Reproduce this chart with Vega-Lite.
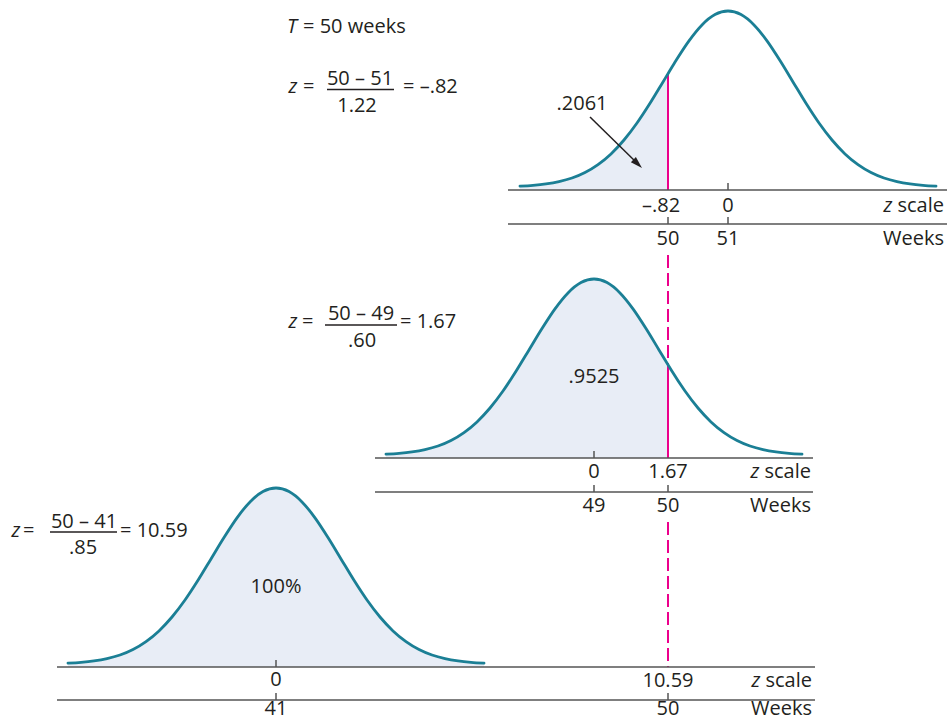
{
  "$schema": "https://vega.github.io/schema/vega-lite/v6.json",
  "width": 947,
  "height": 721,
  "autosize": {"type": "none"},
  "padding": 0,
  "background": "white",
  "config": {"view": {"stroke": null}},
  "datasets": {
    "curves": [
      {"c":"top","x":520,"y":186.1},{"c":"top","x":533,"y":185.3},{"c":"top","x":546,"y":183.9},{"c":"top","x":559,"y":181.6},{"c":"top","x":572,"y":178.0},{"c":"top","x":585,"y":172.5},{"c":"top","x":598,"y":164.6},{"c":"top","x":611,"y":153.9},{"c":"top","x":624,"y":140.0},{"c":"top","x":637,"y":123.0},{"c":"top","x":650,"y":103.3},{"c":"top","x":663,"y":81.9},{"c":"top","x":668,"y":73.7},{"c":"top","x":676,"y":60.5},{"c":"top","x":689,"y":40.8},{"c":"top","x":702,"y":24.9},{"c":"top","x":715,"y":14.6},{"c":"top","x":728,"y":11.0},{"c":"top","x":741,"y":14.6},{"c":"top","x":754,"y":24.9},{"c":"top","x":767,"y":40.8},{"c":"top","x":780,"y":60.5},{"c":"top","x":793,"y":81.9},{"c":"top","x":806,"y":103.3},{"c":"top","x":819,"y":123.0},{"c":"top","x":832,"y":140.0},{"c":"top","x":845,"y":153.9},{"c":"top","x":858,"y":164.6},{"c":"top","x":871,"y":172.5},{"c":"top","x":884,"y":178.0},{"c":"top","x":897,"y":181.6},{"c":"top","x":910,"y":183.9},{"c":"top","x":923,"y":185.3},{"c":"top","x":936,"y":186.1},
      {"c":"mid","x":386,"y":454.1},{"c":"mid","x":399,"y":453.3},{"c":"mid","x":412,"y":451.9},{"c":"mid","x":425,"y":449.6},{"c":"mid","x":438,"y":446.0},{"c":"mid","x":451,"y":440.5},{"c":"mid","x":464,"y":432.6},{"c":"mid","x":477,"y":421.9},{"c":"mid","x":490,"y":408.0},{"c":"mid","x":503,"y":391.0},{"c":"mid","x":516,"y":371.3},{"c":"mid","x":529,"y":349.9},{"c":"mid","x":542,"y":328.5},{"c":"mid","x":555,"y":308.8},{"c":"mid","x":568,"y":292.9},{"c":"mid","x":581,"y":282.6},{"c":"mid","x":594,"y":279.0},{"c":"mid","x":607,"y":282.6},{"c":"mid","x":620,"y":292.9},{"c":"mid","x":633,"y":308.8},{"c":"mid","x":646,"y":328.5},{"c":"mid","x":659,"y":349.9},{"c":"mid","x":668,"y":364.7},{"c":"mid","x":672,"y":371.3},{"c":"mid","x":685,"y":391.0},{"c":"mid","x":698,"y":408.0},{"c":"mid","x":711,"y":421.9},{"c":"mid","x":724,"y":432.6},{"c":"mid","x":737,"y":440.5},{"c":"mid","x":750,"y":446.0},{"c":"mid","x":763,"y":449.6},{"c":"mid","x":776,"y":451.9},{"c":"mid","x":789,"y":453.3},{"c":"mid","x":802,"y":454.1},
      {"c":"bot","x":68,"y":663.1},{"c":"bot","x":81,"y":662.3},{"c":"bot","x":94,"y":660.9},{"c":"bot","x":107,"y":658.6},{"c":"bot","x":120,"y":655.0},{"c":"bot","x":133,"y":649.5},{"c":"bot","x":146,"y":641.6},{"c":"bot","x":159,"y":630.9},{"c":"bot","x":172,"y":617.0},{"c":"bot","x":185,"y":600.0},{"c":"bot","x":198,"y":580.3},{"c":"bot","x":211,"y":558.9},{"c":"bot","x":224,"y":537.5},{"c":"bot","x":237,"y":517.8},{"c":"bot","x":250,"y":501.9},{"c":"bot","x":263,"y":491.6},{"c":"bot","x":276,"y":488.0},{"c":"bot","x":289,"y":491.6},{"c":"bot","x":302,"y":501.9},{"c":"bot","x":315,"y":517.8},{"c":"bot","x":328,"y":537.5},{"c":"bot","x":341,"y":558.9},{"c":"bot","x":354,"y":580.3},{"c":"bot","x":367,"y":600.0},{"c":"bot","x":380,"y":617.0},{"c":"bot","x":393,"y":630.9},{"c":"bot","x":406,"y":641.6},{"c":"bot","x":419,"y":649.5},{"c":"bot","x":432,"y":655.0},{"c":"bot","x":445,"y":658.6},{"c":"bot","x":458,"y":660.9},{"c":"bot","x":471,"y":662.3},{"c":"bot","x":484,"y":663.1}
    ],
    "axisLines": [
      {"x":508,"x2":947,"y":190,"y2":190},{"x":508,"x2":947,"y":224,"y2":224},
      {"x":375,"x2":813,"y":458,"y2":458},{"x":375,"x2":813,"y":492,"y2":492},
      {"x":57,"x2":815,"y":667,"y2":667},{"x":57,"x2":815,"y":700,"y2":700}
    ],
    "ticks": [
      {"x":728,"x2":728,"y":183,"y2":190},{"x":668,"x2":668,"y":217,"y2":224},{"x":728,"x2":728,"y":217,"y2":224},
      {"x":594,"x2":594,"y":451,"y2":458},{"x":594,"x2":594,"y":485,"y2":492},{"x":668,"x2":668,"y":485,"y2":492},
      {"x":276,"x2":276,"y":660,"y2":667},{"x":276,"x2":276,"y":693,"y2":700},{"x":668,"x2":668,"y":693,"y2":700}
    ],
    "fracBars": [
      {"x":327,"x2":394,"y":89.5,"y2":89.5},{"x":325,"x2":397,"y":325,"y2":325},{"x":50,"x2":117,"y":532,"y2":532}
    ],
    "cutSolid": [
      {"x":668,"x2":668,"y":73.7,"y2":190},{"x":668,"x2":668,"y":364.7,"y2":458}
    ],
    "cutDashed": [
      {"x":668,"x2":668,"y":255,"y2":364.7},{"x":668,"x2":668,"y":522,"y2":667}
    ],
    "arrow": [{"x":590,"y":117,"x2":638,"y2":164}],
    "arrowHead": [{"x":637.7,"y":163.8}],
    "textCenter": [
      {"t":"–.82","x":661,"y":212},{"t":"0","x":728,"y":212},{"t":"50","x":668,"y":245},{"t":"51","x":728,"y":245},
      {"t":"0","x":594,"y":478},{"t":"1.67","x":668,"y":478},{"t":"49","x":594,"y":512},{"t":"50","x":668,"y":512},
      {"t":"0","x":276,"y":686},{"t":"10.59","x":668,"y":687},{"t":"41","x":276,"y":715},{"t":"50","x":668,"y":715},
      {"t":".2061","x":582,"y":110},{"t":".9525","x":594,"y":383},{"t":"100%","x":276,"y":593},
      {"t":"50 – 51","x":360,"y":85},{"t":"1.22","x":357,"y":112},
      {"t":"50 – 49","x":361,"y":320},{"t":".60","x":362,"y":347},
      {"t":"50 – 41","x":84,"y":528},{"t":".85","x":83,"y":554}
    ],
    "textLeft": [
      {"t":"= 50 weeks","x":303,"y":33},
      {"t":"=","x":303,"y":93},{"t":"= –.82","x":403,"y":93},
      {"t":"=","x":302,"y":328},{"t":"= 1.67","x":400,"y":328},
      {"t":"=","x":23,"y":537},{"t":"= 10.59","x":120,"y":537}
    ],
    "textRight": [
      {"t":"scale","x":944,"y":212},{"t":"Weeks","x":944,"y":245},
      {"t":"scale","x":811,"y":478},{"t":"Weeks","x":811,"y":512},
      {"t":"scale","x":812,"y":687},{"t":"Weeks","x":812,"y":715}
    ],
    "textItalic": [
      {"t":"T","x":292,"y":33},{"t":"z","x":293,"y":93},{"t":"z","x":293,"y":328},{"t":"z","x":16,"y":537},
      {"t":"z","x":888,"y":212},{"t":"z","x":755,"y":478},{"t":"z","x":756,"y":687}
    ]
  },
  "encoding": {
    "x": {"field": "x", "type": "quantitative", "scale": {"domain": [0, 947], "nice": false, "zero": false}, "axis": null},
    "y": {"field": "y", "type": "quantitative", "scale": {"domain": [0, 721], "nice": false, "zero": false, "reverse": true}, "axis": null}
  },
  "layer": [
    {
      "data": {"name": "curves"},
      "transform": [{"filter": "datum.c == 'top' && datum.x <= 668"}],
      "mark": {"type": "area", "color": "#e8edf6", "interpolate": "monotone"},
      "encoding": {"y2": {"datum": 190}}
    },
    {
      "data": {"name": "curves"},
      "transform": [{"filter": "datum.c == 'mid' && datum.x <= 668"}],
      "mark": {"type": "area", "color": "#e8edf6", "interpolate": "monotone"},
      "encoding": {"y2": {"datum": 458}}
    },
    {
      "data": {"name": "curves"},
      "transform": [{"filter": "datum.c == 'bot'"}],
      "mark": {"type": "area", "color": "#e8edf6", "interpolate": "monotone"},
      "encoding": {"y2": {"datum": 667}}
    },
    {
      "data": {"name": "cutSolid"},
      "mark": {"type": "rule", "color": "#ec008c", "strokeWidth": 2},
      "encoding": {"x2": {"field": "x2"}, "y2": {"field": "y2"}}
    },
    {
      "data": {"name": "cutDashed"},
      "mark": {"type": "rule", "color": "#ec008c", "strokeWidth": 2, "strokeDash": [13, 5]},
      "encoding": {"x2": {"field": "x2"}, "y2": {"field": "y2"}}
    },
    {
      "data": {"name": "curves"},
      "mark": {"type": "line", "color": "#1b7f95", "strokeWidth": 2.8, "interpolate": "monotone", "strokeCap": "round"},
      "encoding": {"detail": {"field": "c"}}
    },
    {
      "data": {"name": "axisLines"},
      "mark": {"type": "rule", "color": "#555555", "strokeWidth": 1.5},
      "encoding": {"x2": {"field": "x2"}, "y2": {"field": "y2"}}
    },
    {
      "data": {"name": "ticks"},
      "mark": {"type": "rule", "color": "#555555", "strokeWidth": 1.5},
      "encoding": {"x2": {"field": "x2"}, "y2": {"field": "y2"}}
    },
    {
      "data": {"name": "fracBars"},
      "mark": {"type": "rule", "color": "#231f20", "strokeWidth": 1.3},
      "encoding": {"x2": {"field": "x2"}, "y2": {"field": "y2"}}
    },
    {
      "data": {"name": "arrow"},
      "mark": {"type": "rule", "color": "#231f20", "strokeWidth": 1.5},
      "encoding": {"x2": {"field": "x2"}, "y2": {"field": "y2"}}
    },
    {
      "data": {"name": "arrowHead"},
      "mark": {"type": "point", "shape": "M0,-1L0.6,1L-0.6,1Z", "filled": true, "color": "#231f20", "size": 144, "angle": 134, "opacity": 1},
      "encoding": {}
    },
    {
      "data": {"name": "textCenter"},
      "mark": {"type": "text", "align": "center", "baseline": "alphabetic", "font": "Open Sans", "fontSize": 20, "color": "#231f20"},
      "encoding": {"text": {"field": "t"}}
    },
    {
      "data": {"name": "textLeft"},
      "mark": {"type": "text", "align": "left", "baseline": "alphabetic", "font": "Open Sans", "fontSize": 20, "color": "#231f20"},
      "encoding": {"text": {"field": "t"}}
    },
    {
      "data": {"name": "textRight"},
      "mark": {"type": "text", "align": "right", "baseline": "alphabetic", "font": "Open Sans", "fontSize": 20, "color": "#231f20"},
      "encoding": {"text": {"field": "t"}}
    },
    {
      "data": {"name": "textItalic"},
      "mark": {"type": "text", "align": "center", "baseline": "alphabetic", "font": "Open Sans", "fontSize": 20, "fontStyle": "italic", "color": "#231f20"},
      "encoding": {"text": {"field": "t"}}
    }
  ]
}
